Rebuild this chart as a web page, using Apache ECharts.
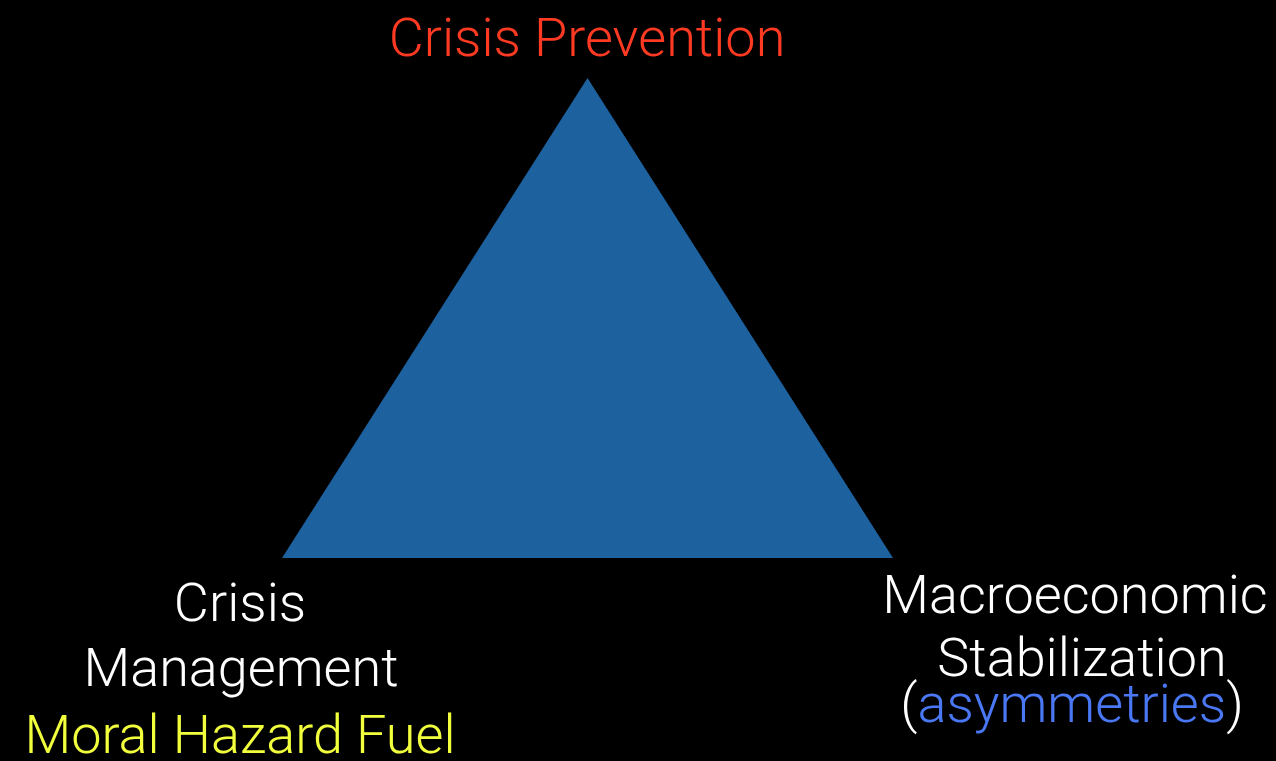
<!DOCTYPE html>
<html>
<head>
<meta charset="utf-8">
<title>Crisis triangle</title>
<script src="https://cdn.jsdelivr.net/npm/echarts@6/dist/echarts.min.js"></script>
<style>
  html, body { margin: 0; padding: 0; background: #000; }
  #chart { width: 1276px; height: 761px; }
</style>
</head>
<body>
<div id="chart"></div>
<script>
// vertices of the triangle (abstract units)
const vertexNames = ['Crisis Prevention', 'Crisis Management', 'Macroeconomic Stabilization']
const vertexX = [0.5, 0, 1]
const vertexY = [1, 0, 0]

// label lines
const topLabel = ['Crisis Prevention']
const leftLabel = ['Crisis', 'Management', 'Moral Hazard Fuel']
const rightLabel = ['Macroeconomic', 'Stabilization', 'asymmetries']

const FONT = 'Roboto, "Liberation Sans", sans-serif'
const SIZE = 54

const chart = echarts.init(document.getElementById('chart'))

const textEl = (text, x, y, color) => ({
  type: 'text',
  x: x,
  y: y,
  style: {
    text: text,
    fill: color,
    font: '300 ' + SIZE + 'px ' + FONT,
    textAlign: 'center',
    textVerticalAlign: 'middle'
  }
})

const option = {
  backgroundColor: '#000',
  animation: false,
  grid: { left: 282, right: 383, top: 78, bottom: 203 },
  xAxis: { type: 'value', min: 0, max: 1, show: false },
  yAxis: { type: 'value', min: 0, max: 1, show: false },
  series: [
    {
      type: 'custom',
      data: [0],
      renderItem: (params, api) => {
        const points = vertexX.map((x, i) => api.coord([x, vertexY[i]]))
        return {
          type: 'polygon',
          shape: { points: points },
          style: { fill: '#1d619f' }
        }
      }
    }
  ],
  graphic: [
    textEl(topLabel[0], 587, 42, '#ff3a22'),
    textEl(leftLabel[0], 240, 607, '#ffffff'),
    textEl(leftLabel[1], 241, 672, '#ffffff'),
    textEl(leftLabel[2], 240, 739, '#f2ff3c'),
    textEl(rightLabel[0], 1075, 599, '#ffffff'),
    textEl(rightLabel[1], 1082, 662, '#ffffff'),
    {
      type: 'text',
      x: 1072,
      y: 708,
      style: {
        text: '{p|(}{b|' + rightLabel[2] + '}{p|)}',
        textAlign: 'center',
        textVerticalAlign: 'middle',
        rich: {
          p: { fill: '#ffffff', fontSize: SIZE, fontWeight: 300, fontFamily: FONT },
          b: { fill: '#4a78f5', fontSize: SIZE, fontWeight: 300, fontFamily: FONT }
        }
      }
    }
  ]
}

chart.setOption(option)
</script>
</body>
</html>
